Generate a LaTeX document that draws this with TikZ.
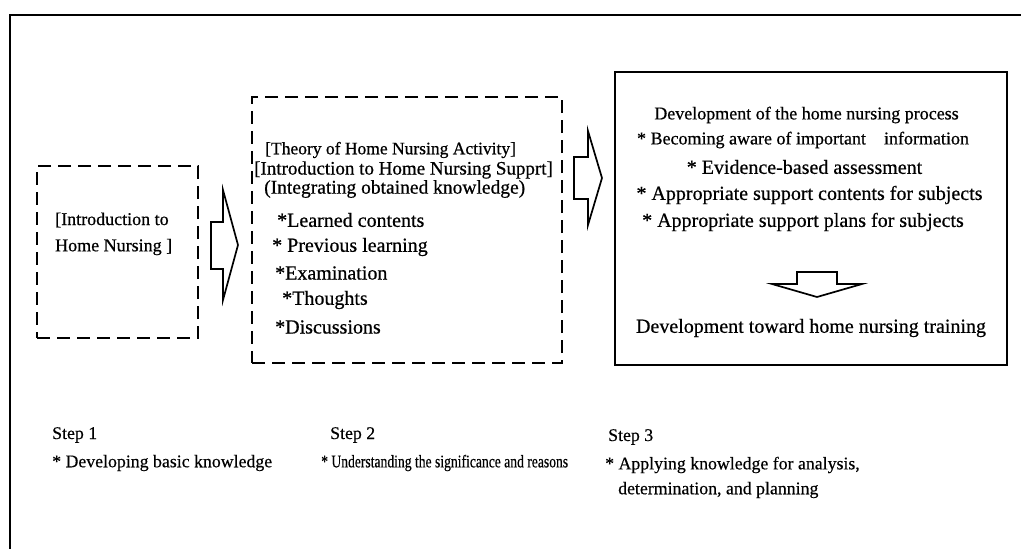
\documentclass[tikz,border=0pt]{standalone}
\usepackage{fontspec}
\setmainfont[FakeBold=0.6]{Liberation Serif}
\newfontfamily\noteserif[FakeBold=0.4]{Liberation Serif}
\newfontfamily\narrowserif[FakeStretch=0.765,FakeBold=0.4]{Liberation Serif}
\usetikzlibrary{arrows,shapes,positioning}
\tikzstyle{frame line}=[draw, line width=2pt]
\tikzstyle{dashed box}=[draw, line width=2pt
,dash pattern=on 13pt off 7pt
,inner sep=0pt
]
\tikzstyle{solid box}=[draw, line width=2.6pt, inner sep=0pt]
\tikzstyle{block arrow}=[draw, line width=1.7pt, line join=miter]
\tikzstyle{line text}=[inner sep=0pt, anchor=west]
\tikzstyle{mid text}=[inner sep=0pt, anchor=center]
\tikzstyle{stepnote}=[line text, font=\noteserif\fontsize{17.8}{19}\selectfont]

\begin{document}
\begin{tikzpicture}[x=1pt,y=-1pt]
    \useasboundingbox (0,0) rectangle (1021,549);
    % Outer frame, only top and left are drawn
    \draw[frame line] (1021,15) -- (10,15) -- (10,549);

    % First we draw the three step boxes
    \node[dashed box, minimum width=161pt, minimum height=172pt] (S1) at (117.5,252) {};
    \node[dashed box, minimum width=310pt, minimum height=266pt] (S2) at (407,230) {};
    \node[solid box, minimum width=392pt, minimum height=293pt] (S3) at (811,218.5) {};

    % Text of step 1
    \foreach \pos/\name/\txt in {{(55,220)/A1/{[Introduction to}}, {(55,247)/A2/{Home Nursing ]}}}
        \node[line text, font=\fontsize{18}{20}\selectfont] (\name) at \pos {\txt};

    % Text of step 2
    \foreach \pos/\s/\name/\txt in {{(265,150)/17.5/B1/{[Theory of Home Nursing Activity]}},
        {(254,170)/19/B2/{[Introduction to Home Nursing Supprt]}},
        {(264,189)/19.5/B3/{(Integrating obtained knowledge)}},
        {(277,220)/20/B4/{*Learned contents}},
        {(272,247)/20/B5/{* Previous learning}},
        {(275,273)/20/B6/{*Examination}},
        {(282,300)/20/B7/{*Thoughts}},
        {(275,327)/20/B8/{*Discussions}}}
        \node[line text, font=\fontsize{\s}{\s}\selectfont] (\name) at \pos {\txt};

    % Text of step 3
    \foreach \pos/\s/\name/\txt in {{(806.5,115)/18/C1/{Development of the home nursing process}},
        {(803,140)/18/C2/{* Becoming aware of important\hspace{1em}information}},
        {(804.5,167)/20/C3/{* Evidence-based assessment}},
        {(809.5,195)/20/C4/{* Appropriate support contents for subjects}},
        {(803,222)/20/C5/{* Appropriate support plans for subjects}},
        {(811,328)/20/C6/{Development toward home nursing training}}}
        \node[mid text, font=\fontsize{\s}{\s}\selectfont] (\name) at \pos {\txt};

    % Block arrows between the boxes
    \draw[block arrow] (211,222) -- (223,222) -- (223,190) -- (238,245)
        -- (223,300) -- (223,269) -- (211,269) -- cycle;
    \draw[block arrow] (574,157) -- (588,157) -- (588,131) -- (602,178)
        -- (588,225) -- (588,199) -- (574,199) -- cycle;
    \draw[block arrow] (797,272) -- (837,272) -- (837,284) -- (862,284)
        -- (817,297) -- (772,284) -- (797,284) -- cycle;

    % Step notes below
    \node[stepnote] (step1) at (52,435) {Step 1};
    \node[stepnote] (aim1) at (52,463) {* Developing basic knowledge};
    \node[stepnote] (step2) at (330,435) {Step 2};
    \node[stepnote, font=\narrowserif\fontsize{17.8}{19}\selectfont] (aim2) at (321,463)
        {* Understanding the significance and reasons};
    \node[stepnote] (step3) at (608,437) {Step 3};
    \node[stepnote] (aim3) at (605,465) {* Applying knowledge for analysis,};
    \node[stepnote] (aim3b) at (618,490) {determination, and planning};
\end{tikzpicture}
\end{document}
